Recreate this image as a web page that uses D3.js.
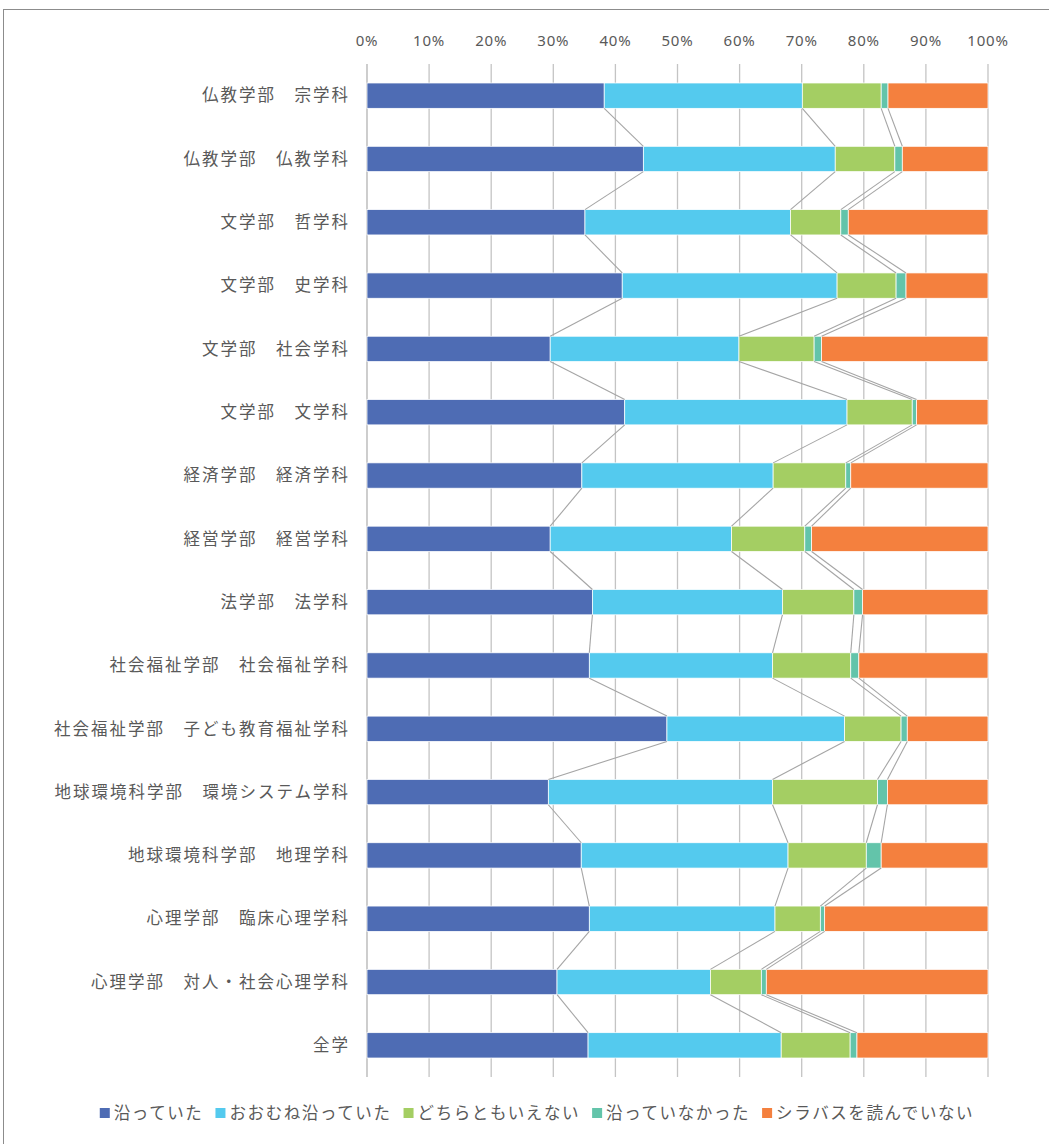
<!DOCTYPE html>
<html lang="ja">
<head>
  <meta charset="UTF-8">
  <script src="https://cdn.jsdelivr.net/npm/d3@7"></script>
  <title>シラバス</title>
  <style>
    body { margin: 0; background: white; }
    text { fill: #595959; }
    .cat { font-family: "Noto Sans CJK JP", sans-serif; font-size: 16.5px; letter-spacing: 2px; }
    .tick { font-family: "Noto Sans", sans-serif; font-size: 15px; letter-spacing: 0.8px; }
    .leg { font-family: "Noto Sans CJK JP", sans-serif; font-size: 16.5px; letter-spacing: 1.6px; }
  </style>
</head>
<body>
<script>
  const categories = [
    "仏教学部　宗学科", "仏教学部　仏教学科", "文学部　哲学科", "文学部　史学科",
    "文学部　社会学科", "文学部　文学科", "経済学部　経済学科", "経営学部　経営学科",
    "法学部　法学科", "社会福祉学部　社会福祉学科", "社会福祉学部　子ども教育福祉学科",
    "地球環境科学部　環境システム学科", "地球環境科学部　地理学科", "心理学部　臨床心理学科",
    "心理学部　対人・社会心理学科", "全学"
  ];
  const seriesNames = ["沿っていた", "おおむね沿っていた", "どちらともいえない", "沿っていなかった", "シラバスを読んでいない"];
  // percent per category, in category order
  const sotte     = [38.2, 44.5, 35.1, 41.1, 29.5, 41.5, 34.6, 29.5, 36.3, 35.8, 48.3, 29.2, 34.5, 35.8, 30.6, 35.6];
  const oomune    = [31.9, 30.9, 33.1, 34.6, 30.4, 35.8, 30.8, 29.2, 30.6, 29.5, 28.6, 36.1, 33.3, 29.9, 24.7, 31.1];
  const dochira   = [12.7,  9.6,  8.1,  9.5, 12.1, 10.5, 11.7, 11.8, 11.5, 12.6,  9.1, 16.9, 12.6,  7.3,  8.2, 11.1];
  const sottenai  = [ 1.1,  1.2,  1.2,  1.6,  1.2,  0.7,  0.8,  1.1,  1.4,  1.3,  1.0,  1.6,  2.4,  0.7,  0.8,  1.1];
  const yondenai  = [16.1, 13.8, 22.5, 13.2, 26.8, 11.5, 22.1, 28.4, 20.2, 20.8, 13.0, 16.2, 17.2, 26.3, 35.7, 21.1];
  const xTicks = [0, 0.1, 0.2, 0.3, 0.4, 0.5, 0.6, 0.7, 0.8, 0.9, 1];
  const colors = ["#4E6CB4", "#54CAEE", "#A4CE63", "#63C4AA", "#F4803E"];

  const cols = [sotte, oomune, dochira, sottenai, yondenai];
  const rows = categories.map((c, i) => {
    const o = { cat: c };
    const tot = d3.sum(cols, s => s[i]);
    seriesNames.forEach((k, j) => o[k] = cols[j][i] / tot);
    return o;
  });

  const W = 1049, H = 1144;
  const svg = d3.select("body").append("svg").attr("width", W).attr("height", H);

  // chart frame
  svg.append("rect").attr("x", 3.5).attr("y", 9.5).attr("width", 1100).attr("height", 1200)
    .attr("fill", "none").attr("stroke", "#8c8c8c").attr("stroke-width", 1);

  const x = d3.scaleLinear().domain([0, 1]).range([367, 988]);
  const y = d3.scaleBand().domain(categories).range([64, 1077]).paddingInner(0.6).paddingOuter(0.3);

  // gridlines
  svg.append("g").selectAll("line").data(xTicks).enter().append("line")
    .attr("x1", d => x(d)).attr("x2", d => x(d))
    .attr("y1", 64).attr("y2", 1077)
    .attr("stroke", (d, i) => i === 0 ? "#b3b3b3" : "#c4c4c4").attr("stroke-width", 1.3);

  // top axis labels
  svg.append("g").selectAll("text").data(xTicks).enter().append("text")
    .attr("class", "tick")
    .attr("x", d => x(d)).attr("y", 46)
    .attr("text-anchor", "middle")
    .text(d3.format(".0%"));

  const stacked = d3.stack().keys(seriesNames)(rows);

  // bars
  svg.append("g").selectAll("g").data(stacked).enter().append("g")
    .attr("fill", (d, i) => colors[i])
    .selectAll("rect").data(d => d).enter().append("rect")
    .attr("x", d => x(d[0]))
    .attr("width", d => x(d[1]) - x(d[0]))
    .attr("y", d => y(d.data.cat))
    .attr("height", y.bandwidth())
    .attr("stroke", "white").attr("stroke-width", 0.75);

  // series lines between bars
  const segs = [];
  stacked.slice(0, 4).forEach(s => {
    for (let i = 0; i < s.length - 1; i++) {
      segs.push({
        x1: x(s[i][1]), y1: y(categories[i]) + y.bandwidth(),
        x2: x(s[i + 1][1]), y2: y(categories[i + 1])
      });
    }
  });
  svg.append("g").selectAll("line").data(segs).enter().append("line")
    .attr("x1", d => d.x1).attr("y1", d => d.y1)
    .attr("x2", d => d.x2).attr("y2", d => d.y2)
    .attr("stroke", "#a5a5a5").attr("stroke-width", 1.1);

  // category labels
  svg.append("g").selectAll("text").data(categories).enter().append("text")
    .attr("class", "cat")
    .attr("x", 350)
    .attr("y", d => y(d) + y.bandwidth() / 2)
    .attr("dy", "0.35em")
    .attr("text-anchor", "end")
    .text(d => d);

  // legend
  const leg = svg.append("g");
  const items = leg.selectAll("g").data(seriesNames).enter().append("g");
  items.append("rect").attr("width", 10).attr("height", 10).attr("y", -5)
    .attr("fill", (d, i) => colors[i]);
  items.append("text").attr("class", "leg").attr("x", 14).attr("dy", "0.35em").text(d => d);
  let cx = 0;
  items.each(function () {
    const g = d3.select(this);
    g.attr("transform", `translate(${cx},0)`);
    cx += 14 + g.select("text").node().getComputedTextLength() + 12;
  });
  const legW = cx - 12;
  leg.attr("transform", `translate(${537 - legW / 2},1113)`);
</script>
</body>
</html>
